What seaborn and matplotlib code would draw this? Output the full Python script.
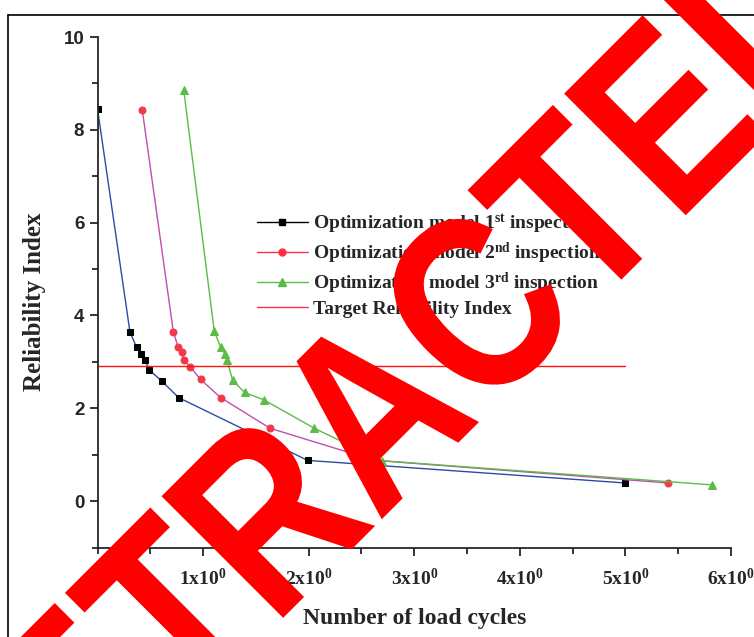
import matplotlib
matplotlib.use('Agg')
import matplotlib.pyplot as plt
from matplotlib.lines import Line2D
from matplotlib.font_manager import FontProperties
from matplotlib.ticker import FixedLocator, FixedFormatter
from matplotlib import patheffects as pe
from matplotlib.transforms import Affine2D
import seaborn as sns
import numpy as np
import pandas as pd

# values
x1 = [0.0, 0.307, 0.37, 0.41, 0.449, 0.487, 0.607, 0.768, 1.99, 5.0]
y1 = [8.45, 3.65, 3.31, 3.17, 3.05, 2.83, 2.59, 2.23, 0.877, 0.39]
x2 = [0.424, 0.718, 0.765, 0.797, 0.816, 0.879, 0.977, 1.166, 1.634, 2.62, 5.406]
y2 = [8.43, 3.65, 3.31, 3.21, 3.05, 2.89, 2.62, 2.23, 1.57, 0.88, 0.39]
x3 = [0.817, 1.106, 1.166, 1.204, 1.226, 1.28, 1.394, 1.577, 2.053, 2.69, 5.817]
y3 = [8.85, 3.66, 3.32, 3.18, 3.05, 2.60, 2.34, 2.18, 1.57, 0.87, 0.35]
target_x = [0.0, 5.0]
target_y = [2.92, 2.92]
xtick_vals = [1, 2, 3, 4, 5, 6]
xtick_labels = [r'$\mathbf{%dx10^{0}}$' % v for v in xtick_vals]
legend_labels = [r'Optimization model 1$^{\mathbf{st}}$ inspection',
                 r'Optimization model 2$^{\mathbf{nd}}$ inspection',
                 r'Optimization model 3$^{\mathbf{rd}}$ inspection',
                 'Target Reliability Index']


class Squeeze(pe.AbstractPathEffect):
    # narrows text along its baseline (no condensed font installed)
    def __init__(self, sx):
        super().__init__()
        self.sx = sx

    def draw_path(self, renderer, gc, tpath, affine, rgbFace=None):
        ext = tpath.get_extents()
        cx = (ext.x0 + ext.x1) / 2
        t = Affine2D().translate(-cx, 0).scale(self.sx, 1).translate(cx, 0)
        renderer.draw_path(gc, tpath, t + affine, rgbFace)


sns.set_style('ticks')
plt.rcParams['font.family'] = ['Liberation Sans', 'DejaVu Sans']
plt.rcParams['mathtext.fontset'] = 'custom'
plt.rcParams['mathtext.rm'] = 'Liberation Serif'
plt.rcParams['mathtext.bf'] = 'Liberation Serif:bold'
plt.rcParams['mathtext.it'] = 'Liberation Serif:italic'

fig = plt.figure(figsize=(7.54, 6.37), dpi=100)
ax = fig.add_axes([97.5/754, 1-547.5/637, (731-97.5)/754, (547.5-37)/637])

sns.lineplot(x=x1, y=y1, ax=ax, color='#2b4ba8', lw=1, marker='s', ms=5,
             markerfacecolor='black', markeredgecolor='black', sort=False)
sns.lineplot(x=x2, y=y2, ax=ax, color='#c04cb4', lw=1, marker='o', ms=5,
             markerfacecolor='#f03a4a', markeredgecolor='#f03a4a', sort=False)
sns.lineplot(x=x3, y=y3, ax=ax, color='#5cbc48', lw=1, marker='^', ms=6,
             markerfacecolor='#5cbc48', markeredgecolor='#5cbc48', sort=False)
sns.lineplot(x=target_x, y=target_y, ax=ax, color='#ff1010', lw=1, sort=False)

ax.set_xlim(0, 6)
ax.set_ylim(-1, 10)
ax.spines['top'].set_visible(False)
ax.spines['right'].set_visible(False)
for s in ['left', 'bottom']:
    ax.spines[s].set_linewidth(1.3)
ax.yaxis.set_major_locator(FixedLocator([0, 2, 4, 6, 8, 10]))
ax.yaxis.set_minor_locator(FixedLocator([-1, 1, 3, 5, 7, 9]))
ax.xaxis.set_major_locator(FixedLocator(xtick_vals))
ax.xaxis.set_major_formatter(FixedFormatter(xtick_labels))
ax.xaxis.set_minor_locator(FixedLocator([0, 0.5, 1.5, 2.5, 3.5, 4.5, 5.5]))
ax.tick_params(which='major', direction='out', length=6, width=1.3)
ax.tick_params(which='minor', direction='out', length=4, width=1.3)
ax.tick_params(axis='y', labelsize=13.5)
ax.tick_params(axis='x', labelsize=14, pad=9)
for t in ax.get_yticklabels():
    t.set_fontweight('bold')

serif_bold = dict(family='Liberation Serif', weight='bold')
ax.set_xlabel('Number of load cycles', fontsize=17, labelpad=13, **serif_bold)
ax.set_ylabel('Reliability Index', fontsize=18, **serif_bold)
ax.yaxis.set_label_coords(-0.081, 0.481)

handles = [Line2D([], [], color='black', lw=1, marker='s', ms=5),
           Line2D([], [], color='#ff3040', lw=1, marker='o', ms=5),
           Line2D([], [], color='#5cbc48', lw=1, marker='^', ms=6),
           Line2D([], [], color='#ff3040', lw=1)]
ax.legend(handles, legend_labels, loc='upper left',
          bbox_to_anchor=(257/754, 1-212/637), bbox_transform=fig.transFigure,
          frameon=False, prop=FontProperties(family='Liberation Serif', weight='bold', size=14),
          handlelength=2.6, handletextpad=0.3, labelspacing=0.25,
          borderpad=0, borderaxespad=0)

# outer frame of the original picture
fig.add_artist(Line2D([8/754, 8/754], [0, 1-15/637], transform=fig.transFigure, color='black', lw=1.2))
fig.add_artist(Line2D([8/754, 1], [1-15/637, 1-15/637], transform=fig.transFigure, color='black', lw=1.2))

# watermark
fig.text(430/754, 1-471/637, 'RETRACTED', rotation=45, rotation_mode='anchor',
         ha='center', va='baseline', fontsize=180, fontweight='bold',
         family='Liberation Sans', color='#ff0000', zorder=10,
         path_effects=[Squeeze(0.82)])

fig.savefig('out.png', dpi=100)
